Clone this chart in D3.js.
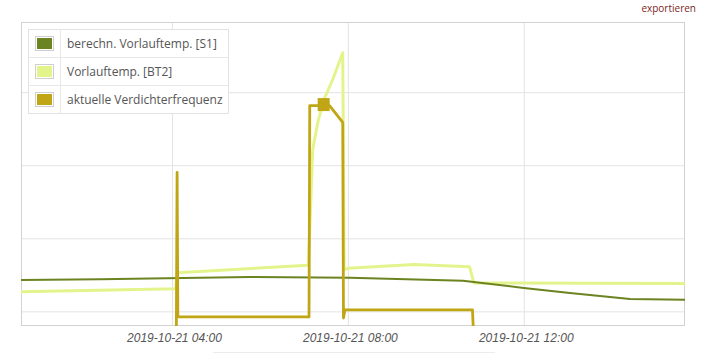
<!DOCTYPE html>
<html lang="de">
<head>
<meta charset="utf-8">
<title>Vorlauftemperatur und Verdichterfrequenz</title>
<script src="https://d3js.org/d3.v7.min.js"></script>
<style>
  body { margin: 0; background: #fff; }
  svg { display: block; font-family: "Open Sans", sans-serif; }
  .grid line { stroke: #e3e3e3; }
  .grid .domain { display: none; }
  .xlabel text { font-style: italic; fill: #555; font-size: 12px; }
  .legend text { fill: #555; font-size: 12px; }
</style>
</head>
<body>
<div id="chart"></div>
<script>
// ---- data (times on 2019-10-21) ----
var day = "2019-10-21 ";

var s1Times  = ["00:34", "02:22", "05:46", "08:03", "10:37", "12:00", "13:03", "14:25", "15:40"];
var s1Values = [24.3, 24.4, 24.7, 24.6, 24.2, 23.2, 22.5, 21.7, 21.6];

var bt2Times  = ["00:34", "04:05", "04:07", "07:06", "07:08", "07:12", "07:19", "07:27",
                 "07:40", "07:53", "07:55", "08:00", "09:30", "10:46", "10:52", "15:40"];
var bt2Values = [22.7, 23.1, 25.3, 26.3, 31.1, 42.1, 45.9, 48.9,
                 51.9, 55.4, 25.7, 25.9, 26.4, 26.1, 23.9, 23.8];

var freqTimes  = ["04:06", "04:07", "04:08", "07:07", "07:08", "07:35", "07:53", "07:54", "07:56", "10:50", "10:51"];
var freqValues = [0, 50.5, 3, 3, 72.5, 72.5, 67, 2.6, 5.3, 5.3, 0];

var markerTime = "07:27", markerValue = 73;

var tickTimes = ["04:00", "08:00", "12:00"];
var tempTicks = [20, 30, 40, 50];

var seriesNames  = ["berechn. Vorlauftemp. [S1]", "Vorlauftemp. [BT2]", "aktuelle Verdichterfrequenz"];
var seriesColors = ["#6b8421", "#e4f48c", "#c0a615"];

// ---- layout ----
var W = 705, H = 354;
var plot = { left: 21, top: 22, right: 685, bottom: 326 };

var parse = d3.timeParse("%Y-%m-%d %H:%M");
function toPoints(times, values) {
  return times.map(function(t, i) { return { t: parse(day + t), v: values[i] }; });
}

var x = d3.scaleTime()
  .domain([parse(day + "00:34"), parse(day + "15:40")])
  .range([plot.left, plot.right]);

var yTemp = d3.scaleLinear().domain([18, 59.6]).range([plot.bottom, plot.top]);
var yFreq = d3.scaleLinear().domain([0, 100]).range([plot.bottom, plot.top]);

var svg = d3.select("#chart").append("svg")
  .attr("width", W)
  .attr("height", H);

svg.append("defs").append("clipPath").attr("id", "clip")
  .append("rect")
    .attr("x", plot.left).attr("y", plot.top)
    .attr("width", plot.right - plot.left)
    .attr("height", plot.bottom - plot.top);

// export link
svg.append("text")
  .attr("x", 696).attr("y", 12)
  .attr("text-anchor", "end")
  .style("font-size", "10px")
  .style("fill", "#7b1f1f")
  .text("exportieren");

// grid lines
svg.append("g")
  .attr("class", "grid")
  .attr("transform", "translate(0," + plot.bottom + ")")
  .call(d3.axisBottom(x)
    .tickValues(tickTimes.map(function(t) { return parse(day + t); }))
    .tickSize(-(plot.bottom - plot.top))
    .tickFormat(""));

svg.append("g")
  .attr("class", "grid")
  .attr("transform", "translate(" + plot.left + ",0)")
  .call(d3.axisLeft(yTemp)
    .tickValues(tempTicks)
    .tickSize(-(plot.right - plot.left))
    .tickFormat(""));

// plot frame
svg.append("rect")
  .attr("x", plot.left + 0.5).attr("y", plot.top + 0.5)
  .attr("width", plot.right - plot.left - 1)
  .attr("height", plot.bottom - plot.top - 1)
  .attr("fill", "none")
  .attr("stroke", "#d2d2d2");

// x labels
var xl = svg.append("g")
  .attr("class", "xlabel")
  .attr("transform", "translate(2," + (plot.bottom + 16) + ")")
  .call(d3.axisBottom(x)
    .tickValues(tickTimes.map(function(t) { return parse(day + t); }))
    .tickSize(0)
    .tickFormat(d3.timeFormat("%Y-%m-%d %H:%M")));
xl.select(".domain").remove();
xl.selectAll("text").attr("dy", 0).attr("y", 0);

// overview bar line under the axis
svg.append("line")
  .attr("x1", 213).attr("x2", 495)
  .attr("y1", 352.5).attr("y2", 352.5)
  .attr("stroke", "#ececec");

// series
var lines = svg.append("g").attr("clip-path", "url(#clip)");

var tempLine = d3.line()
  .x(function(d) { return x(d.t); })
  .y(function(d) { return yTemp(d.v); });
var freqLine = d3.line()
  .x(function(d) { return x(d.t); })
  .y(function(d) { return yFreq(d.v); });

lines.append("path")
  .datum(toPoints(bt2Times, bt2Values))
  .attr("fill", "none")
  .attr("stroke", seriesColors[1])
  .attr("stroke-width", 3)
  .attr("stroke-linejoin", "round")
  .attr("d", tempLine);

lines.append("path")
  .datum(toPoints(s1Times, s1Values))
  .attr("fill", "none")
  .attr("stroke", seriesColors[0])
  .attr("stroke-width", 2)
  .attr("stroke-linejoin", "round")
  .attr("d", tempLine);

lines.append("path")
  .datum(toPoints(freqTimes, freqValues))
  .attr("fill", "none")
  .attr("stroke", seriesColors[2])
  .attr("stroke-width", 2.8)
  .attr("stroke-linejoin", "round")
  .attr("d", freqLine);

// highlighted point
var mx = x(parse(day + markerTime)), my = yFreq(markerValue);
svg.append("rect")
  .attr("x", mx - 6).attr("y", my - 6)
  .attr("width", 12).attr("height", 13)
  .attr("fill", seriesColors[2]);

// legend
var lg = svg.append("g").attr("class", "legend");
var lgX = 28, lgY = 29, lgW = 200, rowH = 28;

lg.append("rect")
  .attr("x", lgX + 0.5).attr("y", lgY + 0.5)
  .attr("width", lgW).attr("height", rowH * 3)
  .attr("fill", "#fff")
  .attr("stroke", "#e2e2e2");

lg.append("line")
  .attr("x1", lgX + 32.5).attr("x2", lgX + 32.5)
  .attr("y1", lgY).attr("y2", lgY + rowH * 3)
  .attr("stroke", "#e8e8e8");

seriesNames.forEach(function(name, i) {
  var ry = lgY + i * rowH;
  if (i > 0) {
    lg.append("line")
      .attr("x1", lgX).attr("x2", lgX + lgW)
      .attr("y1", ry + 0.5).attr("y2", ry + 0.5)
      .attr("stroke", "#e8e8e8");
  }
  lg.append("rect")
    .attr("x", lgX + 7.5).attr("y", ry + 7.5)
    .attr("width", 18).attr("height", 14)
    .attr("fill", "#fff")
    .attr("stroke", "#cfcfcf");
  lg.append("rect")
    .attr("x", lgX + 9).attr("y", ry + 9)
    .attr("width", 15).attr("height", 11)
    .attr("fill", seriesColors[i]);
  lg.append("text")
    .attr("x", lgX + 39).attr("y", ry + 18.5)
    .text(name);
});
</script>
</body>
</html>
